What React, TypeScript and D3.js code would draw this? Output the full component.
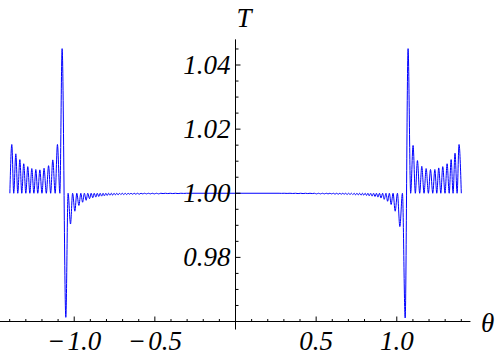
import React from "react";
import * as d3 from "d3";

// theta < 0 branch
const leftTheta = [
  -1.399, -1.387, -1.375, -1.362, -1.35, -1.337, -1.325, -1.313, -1.3, -1.288,
  -1.275, -1.263, -1.25, -1.238, -1.226, -1.213, -1.2, -1.187, -1.173, -1.159,
  -1.146, -1.133, -1.118, -1.104, -1.089, -1.075, -1.052, -1.038, -1.023, -1.01,
  -0.996, -0.984, -0.971, -0.959, -0.948, -0.937, -0.926, -0.916, -0.905, -0.895,
  -0.885, -0.876, -0.866, -0.857, -0.848, -0.839, -0.83, -0.821, -0.813, -0.804,
  -0.796, -0.787, -0.779, -0.77, -0.762, -0.753, -0.745, -0.736, -0.728, -0.719,
  -0.711, -0.702, -0.693, -0.684, -0.675, -0.666, -0.657, -0.648, -0.638, -0.628,
  -0.618, -0.608, -0.597, -0.586, -0.575, -0.564, -0.552, -0.54, -0.528, -0.516,
  -0.503, -0.49, -0.477, -0.463, -0.449, -0.435, -0.42, -0.405, -0.389, -0.373,
  -0.356, -0.339, -0.321, -0.303, 0.0,
];
const leftT = [
  1.0, 1.0152, 1.0, 1.0123, 1.0, 1.0105, 1.0, 1.0092, 1.0, 1.0083,
  1.0, 1.0077, 1.0, 1.0074, 1.0, 1.0073, 1.0, 1.0078, 1.0, 1.0086,
  1.0, 1.0104, 1.0, 1.0152, 1.0, 1.0451, 0.9613, 1.0, 0.9904, 1.0,
  0.9944, 1.0, 0.9962, 1.0, 0.9972, 1.0, 0.9978, 1.0, 0.9983, 1.0,
  0.9986, 1.0, 0.9988, 1.0, 0.999, 1.0, 0.9991, 1.0, 0.9992, 1.0,
  0.9993, 1.0, 0.9994, 1.0, 0.9994, 1.0, 0.9995, 1.0, 0.9995, 1.0,
  0.9996, 1.0, 0.9996, 1.0, 0.9996, 1.0, 0.9997, 1.0, 0.9997, 1.0,
  0.9997, 1.0, 0.9997, 1.0, 0.9998, 1.0, 0.9998, 1.0, 0.9998, 1.0,
  0.9998, 1.0, 0.9998, 1.0, 0.9999, 1.0, 0.9999, 1.0, 0.9999, 1.0,
  0.9999, 1.0, 0.99995, 1.0, 1.0,
];

// theta > 0 branch
const rightTheta = [
  0.27, 0.285, 0.302, 0.32, 0.338, 0.355, 0.372, 0.388, 0.404, 0.419,
  0.434, 0.448, 0.462, 0.476, 0.489, 0.502, 0.515, 0.527, 0.539, 0.551,
  0.563, 0.574, 0.585, 0.596, 0.607, 0.617, 0.627, 0.637, 0.647, 0.656,
  0.665, 0.674, 0.683, 0.692, 0.701, 0.71, 0.719, 0.727, 0.736, 0.744,
  0.753, 0.761, 0.77, 0.778, 0.787, 0.795, 0.804, 0.812, 0.821, 0.829,
  0.838, 0.847, 0.856, 0.865, 0.874, 0.883, 0.893, 0.902, 0.912, 0.922,
  0.933, 0.943, 0.954, 0.965, 0.977, 0.99, 1.004, 1.019, 1.035, 1.052,
  1.07, 1.086, 1.101, 1.115, 1.128, 1.142, 1.155, 1.169, 1.182, 1.196,
  1.209, 1.223, 1.236, 1.248, 1.26, 1.273, 1.285, 1.299, 1.312, 1.325,
  1.337, 1.349, 1.361, 1.374, 1.386, 1.4,
];
const rightT = [
  1.0, 0.99997, 1.0, 0.99995, 1.0, 0.99993, 1.0, 0.9999, 1.0, 0.9999,
  1.0, 0.9999, 1.0, 0.9999, 1.0, 0.9998, 1.0, 0.9998, 1.0, 0.9998,
  1.0, 0.9998, 1.0, 0.9998, 1.0, 0.9997, 1.0, 0.9997, 1.0, 0.9997,
  1.0, 0.9997, 1.0, 0.9996, 1.0, 0.9996, 1.0, 0.9996, 1.0, 0.9995,
  1.0, 0.9995, 1.0, 0.9994, 1.0, 0.9994, 1.0, 0.9993, 1.0, 0.9992,
  1.0, 0.9991, 1.0, 0.999, 1.0, 0.9988, 1.0, 0.9985, 1.0, 0.9981,
  1.0, 0.9975, 1.0, 0.9965, 1.0, 0.9944, 1.0, 0.9896, 1.0, 0.9611,
  1.0451, 1.0, 1.0149, 1.0, 1.0102, 1.0, 1.0084, 1.0, 1.0077, 1.0,
  1.0074, 1.0, 1.0074, 1.0, 1.0079, 1.0, 1.0083, 1.0, 1.0092, 1.0,
  1.0105, 1.0, 1.0125, 1.0, 1.0152, 1.0,
];

const xMajorTicks = [-1.0, -0.5, 0.5, 1.0];
const xTickLabels = ["\u2212\u200A1.0", "\u2212\u200A0.5", "0.5", "1.0"];
const xMinorTicks = [
  -1.4, -1.3, -1.2, -1.1, -0.9, -0.8, -0.7, -0.6, -0.4, -0.3, -0.2, -0.1,
  0.1, 0.2, 0.3, 0.4, 0.6, 0.7, 0.8, 0.9, 1.1, 1.2, 1.3, 1.4,
];
const yMajorTicks = [0.98, 1.0, 1.02, 1.04];
const yTickLabels = ["0.98", "1.00", "1.02", "1.04"];
const yMinorTicks = [
  0.965, 0.97, 0.975, 0.985, 0.99, 0.995, 1.005, 1.01, 1.015, 1.025, 1.03,
  1.035, 1.045,
];

const FONT = "Liberation Serif, Times New Roman, serif";

export default function App() {
  const W = 500;
  const H = 357;
  const x = d3.scaleLinear().domain([-1.4, 1.4]).range([9.7, 461.3]);
  const y = d3.scaleLinear().domain([0.96, 1.04]).range([321.5, 65]);

  const pts: [number, number][] = [
    ...leftTheta.map((t, i) => [t, leftT[i]] as [number, number]),
    ...rightTheta.map((t, i) => [t, rightT[i]] as [number, number]),
  ];
  const line = d3
    .line<[number, number]>()
    .x((d) => x(d[0]))
    .y((d) => y(d[1]))
    .curve(d3.curveMonotoneX);

  const x0 = x(0);
  const yAxis = y(0.96);
  const textStyle = { fontFamily: FONT, fontStyle: "italic" as const, fontSize: 27, fill: "#000" };

  return (
    <svg
      width={W}
      height={H}
      style={{ position: "absolute", left: 0, top: 0, background: "#fff" }}
    >
      <path d={line(pts) || ""} fill="none" stroke="#0000ff" strokeWidth={1} />

      {/* horizontal axis */}
      <line x1={x(-1.4613)} x2={x(1.4568)} y1={yAxis} y2={yAxis} stroke="#000" strokeWidth={1} />
      {xMinorTicks.map((v) => (
        <line key={"xm" + v} x1={x(v)} x2={x(v)} y1={yAxis} y2={yAxis - 2.5} stroke="#000" strokeWidth={1} />
      ))}
      {xMajorTicks.map((v, i) => (
        <g key={"xM" + v}>
          <line x1={x(v)} x2={x(v)} y1={yAxis} y2={yAxis - 5} stroke="#000" strokeWidth={1} />
          <text x={x(v)} y={350} textAnchor="middle" style={textStyle}>
            {xTickLabels[i]}
          </text>
        </g>
      ))}

      {/* vertical axis */}
      <line x1={x0} x2={x0} y1={y(1.048)} y2={y(0.9575)} stroke="#000" strokeWidth={1} />
      {yMinorTicks.map((v) => (
        <line key={"ym" + v} x1={x0} x2={x0 + 3} y1={y(v)} y2={y(v)} stroke="#000" strokeWidth={1} />
      ))}
      {yMajorTicks.map((v, i) => (
        <g key={"yM" + v}>
          <line x1={x0} x2={x0 + 5} y1={y(v)} y2={y(v)} stroke="#000" strokeWidth={1} />
          <text x={x0 - 5} y={y(v) + 9} textAnchor="end" style={textStyle}>
            {yTickLabels[i]}
          </text>
        </g>
      ))}

      {/* axis titles */}
      <text x={481} y={332} style={textStyle}>
        θ
      </text>
      <text x={244} y={27} textAnchor="middle" style={textStyle}>
        T
      </text>
    </svg>
  );
}
